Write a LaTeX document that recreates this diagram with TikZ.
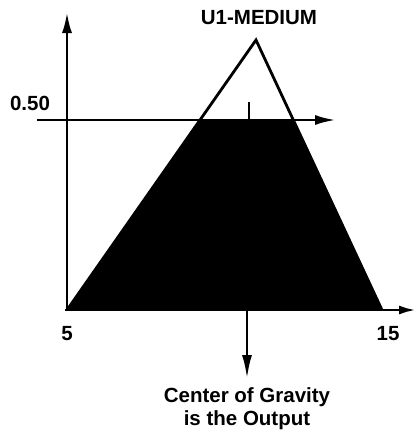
\documentclass[tikz,border=0pt]{standalone}
\usepackage{fontspec}
\setmainfont{Liberation Sans}
\usepackage{tikz}
\usetikzlibrary{arrows.meta,positioning,calc}

\begin{document}
\begin{tikzpicture}[x=1pt,y=-1pt,
        axis/.style={line width=2.8pt, -{Latex[length=21pt,width=10pt]}},
        lbl/.style={font=\fontsize{20.5}{23}\selectfont\bfseries, inner sep=0pt, align=center}]
    \useasboundingbox (0,0) rectangle (416,434);
    % corner points of the membership sets
    \coordinate (o) at (67,310);
    \coordinate (apex) at (256,40);
    \coordinate (foot) at (382,310);
    \coordinate (cutl) at (200,120);
    \coordinate (cutr) at (293,120);
    % clipped area
    \fill (o) -- (cutl) -- (cutr) -- (foot) -- cycle;
    \draw[line width=2.8pt, line join=miter] (o) -- (apex) -- (foot);
    % axes
    \coordinate (ytop) at (67,12);
    \coordinate (xend) at (416,310);
    \draw[axis] (67,311) -- (ytop);
    \draw[axis, -{Latex[length=17pt,width=9pt]}] (65,310) -- (xend);
    \coordinate (cutstart) at (37,120);
    \coordinate (cutend) at (336,120);
    \draw[axis] (cutstart) -- (cutend);
    % centre of gravity
    \coordinate (tick) at (249,102);
    \draw[line width=2.8pt] (tick) -- (249,120);
    \coordinate (cog) at (247,379);
    \draw[axis, -{Latex[length=24pt,width=10pt]}] (247,310) -- (cog);
    % labels
    \node[lbl] (medium) at (259,18) {U1-MEDIUM};
    \node[lbl] (half) at (30,103) {0.50};
    \node[lbl] (five) at (67,334) {5};
    \node[lbl] (fifteen) at (388,334) {15};
    \node[lbl, below=8pt of cog] (output) {Center of Gravity\\is the Output};
\end{tikzpicture}
\end{document}
